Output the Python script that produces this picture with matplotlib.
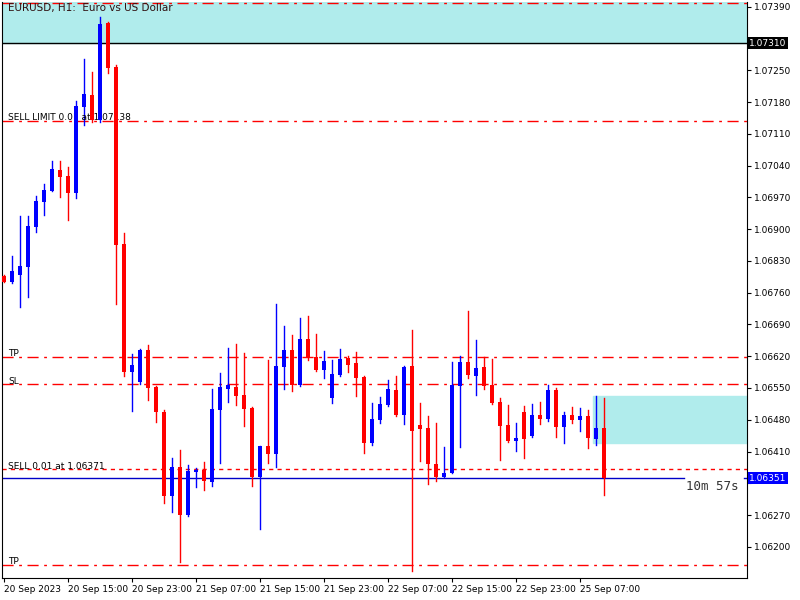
import matplotlib
matplotlib.use("Agg")
import matplotlib.pyplot as plt
from matplotlib.patches import Rectangle

opens = [1.06797, 1.06784, 1.06799, 1.06817, 1.06905, 1.06960, 1.06984, 1.07030, 1.07017, 1.06980,
         1.07169, 1.07196, 1.07141, 1.07354, 1.07257, 1.06867, 1.06585, 1.06563, 1.06634, 1.06552,
         1.06497, 1.06312, 1.06376, 1.06270, 1.06365, 1.06369, 1.06343, 1.06502, 1.06548, 1.06552,
         1.06535, 1.06506, 1.06354, 1.06422, 1.06405, 1.06596, 1.06634, 1.06557, 1.06658, 1.06618,
         1.06590, 1.06528, 1.06579, 1.06616, 1.06605, 1.06574, 1.06429, 1.06479, 1.06513, 1.06546,
         1.06490, 1.06598, 1.06468, 1.06462, 1.06383, 1.06354, 1.06363, 1.06554, 1.06607, 1.06576,
         1.06596, 1.06557, 1.06519, 1.06468, 1.06433, 1.06497, 1.06444, 1.06490, 1.06482, 1.06546,
         1.06464, 1.06490, 1.06479, 1.06488, 1.06438, 1.06462]
highs = [1.06798, 1.06841, 1.06929, 1.06929, 1.06973, 1.06999, 1.07050, 1.07050, 1.07037, 1.07182,
         1.07275, 1.07246, 1.07368, 1.07357, 1.07262, 1.06892, 1.06625, 1.06635, 1.06645, 1.06554,
         1.06502, 1.06396, 1.06413, 1.06380, 1.06374, 1.06387, 1.06548, 1.06583, 1.06638, 1.06647,
         1.06627, 1.06507, 1.06423, 1.06612, 1.06735, 1.06687, 1.06667, 1.06704, 1.06709, 1.06669,
         1.06632, 1.06612, 1.06636, 1.06621, 1.06629, 1.06576, 1.06517, 1.06530, 1.06568, 1.06576,
         1.06598, 1.06678, 1.06517, 1.06488, 1.06473, 1.06420, 1.06607, 1.06621, 1.06720, 1.06656,
         1.06618, 1.06614, 1.06528, 1.06513, 1.06473, 1.06510, 1.06515, 1.06519, 1.06557, 1.06550,
         1.06497, 1.06508, 1.06506, 1.06502, 1.06532, 1.06528]
lows = [1.06783, 1.06782, 1.06728, 1.06750, 1.06894, 1.06931, 1.06983, 1.06971, 1.06920, 1.06969,
        1.07130, 1.07136, 1.07137, 1.07244, 1.06735, 1.06576, 1.06499, 1.06559, 1.06524, 1.06475,
        1.06297, 1.06277, 1.06167, 1.06268, 1.06332, 1.06325, 1.06334, 1.06385, 1.06519, 1.06513,
        1.06466, 1.06334, 1.06239, 1.06385, 1.06376, 1.06548, 1.06543, 1.06555, 1.06612, 1.06587,
        1.06572, 1.06517, 1.06576, 1.06585, 1.06532, 1.06407, 1.06424, 1.06473, 1.06510, 1.06489,
        1.06471, 1.06147, 1.06389, 1.06338, 1.06345, 1.06353, 1.06362, 1.06420, 1.06572, 1.06535,
        1.06548, 1.06515, 1.06391, 1.06432, 1.06411, 1.06396, 1.06442, 1.06471, 1.06477, 1.06442,
        1.06429, 1.06473, 1.06455, 1.06418, 1.06424, 1.06314]
closes = [1.06784, 1.06808, 1.06819, 1.06907, 1.06962, 1.06986, 1.07033, 1.07015, 1.06980, 1.07171,
          1.07198, 1.07141, 1.07352, 1.07255, 1.06865, 1.06585, 1.06601, 1.06634, 1.06550, 1.06497,
          1.06312, 1.06376, 1.06270, 1.06367, 1.06369, 1.06345, 1.06504, 1.06552, 1.06557, 1.06532,
          1.06504, 1.06354, 1.06422, 1.06405, 1.06598, 1.06634, 1.06557, 1.06658, 1.06616, 1.06590,
          1.06610, 1.06581, 1.06614, 1.06601, 1.06572, 1.06429, 1.06482, 1.06515, 1.06548, 1.06490,
          1.06596, 1.06455, 1.06460, 1.06383, 1.06354, 1.06363, 1.06557, 1.06607, 1.06579, 1.06594,
          1.06554, 1.06517, 1.06466, 1.06433, 1.06440, 1.06438, 1.06490, 1.06482, 1.06546, 1.06464,
          1.06490, 1.06479, 1.06488, 1.06440, 1.06462, 1.06351]

time_labels = ["20 Sep 2023", "20 Sep 15:00", "20 Sep 23:00", "21 Sep 07:00", "21 Sep 15:00",
               "21 Sep 23:00", "22 Sep 07:00", "22 Sep 15:00", "22 Sep 23:00", "25 Sep 07:00"]
price_ticks = [1.07390, 1.07320, 1.07250, 1.07180, 1.07110, 1.07040, 1.06970, 1.06900, 1.06830,
               1.06760, 1.06690, 1.06620, 1.06550, 1.06480, 1.06410, 1.06340, 1.06270, 1.06200]

sell_limit = 1.07138
sell_limit_sl = 1.07398
tp_1 = 1.06618
sl_1 = 1.06558
sell_price = 1.06371
tp_2 = 1.06161
bid = 1.06351
upper_zone = 1.07310
zone_top, zone_bottom = 1.06532, 1.06429

fig = plt.figure(figsize=(8, 6), dpi=100)
ax = fig.add_axes([0.003, 0.037, 0.931, 0.96])
ax.set_xlim(-0.2, 92.9)
ax.set_ylim(1.061317, 1.07401)

# zones
ax.add_patch(Rectangle((-1, upper_zone), 100, 0.001, color="#b0ecec", zorder=0))
ax.axhline(upper_zone, color="black", lw=1, zorder=1)
ax.add_patch(Rectangle((73.6, zone_bottom), 30, zone_top - zone_bottom, color="#b0ecec", zorder=0))

# order lines
red = "#ff0000"
for lvl in [sell_limit_sl, sell_limit, tp_1, sl_1, tp_2]:
    ax.axhline(lvl, color=red, lw=1, dashes=(8, 4, 2, 4), zorder=1)
ax.axhline(sell_price, color=red, lw=1, dashes=(3, 3), zorder=1)
ax.plot([-1, 85], [bid, bid], color="#0000c8", lw=1, zorder=1)
ax.plot([92.5, 94], [bid, bid], color="#0000c8", lw=1, zorder=1)

for i in range(len(opens)):
    c = "#0000ff" if closes[i] >= opens[i] else red
    ax.plot([i, i], [lows[i], highs[i]], color=c, lw=1, zorder=3)
    lo = min(opens[i], closes[i])
    h = max(abs(closes[i] - opens[i]), 0.00003)
    ax.add_patch(Rectangle((i - 0.31, lo), 0.62, h, color=c, zorder=4, lw=0))

ax.text(0.55, 1.07388, "EURUSD, H1:  Euro vs US Dollar", fontsize=7.5, color="#301010", va="center")
ax.text(0.55, sell_limit + 0.00007, "SELL LIMIT 0.01 at 1.07138", fontsize=6.5, va="center")
ax.text(0.55, tp_1 + 0.00007, "TP", fontsize=6.5, va="center")
ax.text(0.55, sl_1 + 0.00007, "SL", fontsize=6.5, va="center")
ax.text(0.55, sell_price + 0.00007, "SELL 0.01 at 1.06371", fontsize=6.5, va="center")
ax.text(0.55, tp_2 + 0.00007, "TP", fontsize=6.5, va="center")
ax.text(85.2, bid - 0.00019, "10m 57s", fontsize=9, family="DejaVu Sans Mono", color="#333333", va="center")

# labels hidden behind the price boxes, as in the terminal
hidden = [1.07320, 1.06340]
ax.yaxis.tick_right()
ax.set_yticks(price_ticks)
ax.set_yticklabels(["" if p in hidden else "%.5f" % p for p in price_ticks], fontsize=6.5)
ax.set_xticks(range(0, 76, 8))
ax.set_xticklabels(time_labels, fontsize=6.5, ha="left")
ax.tick_params(length=3, pad=2)
ax.spines["top"].set_visible(False)

ax.text(1.003, upper_zone, "1.07310", transform=ax.get_yaxis_transform(), fontsize=6.5,
        color="white", va="center", ha="left", bbox=dict(boxstyle="square,pad=0.15", fc="black", ec="none"))
ax.text(1.003, bid, "1.06351", transform=ax.get_yaxis_transform(), fontsize=6.5,
        color="white", va="center", ha="left", bbox=dict(boxstyle="square,pad=0.15", fc="#0000ff", ec="none"))

fig.savefig("out.png", dpi=100)
